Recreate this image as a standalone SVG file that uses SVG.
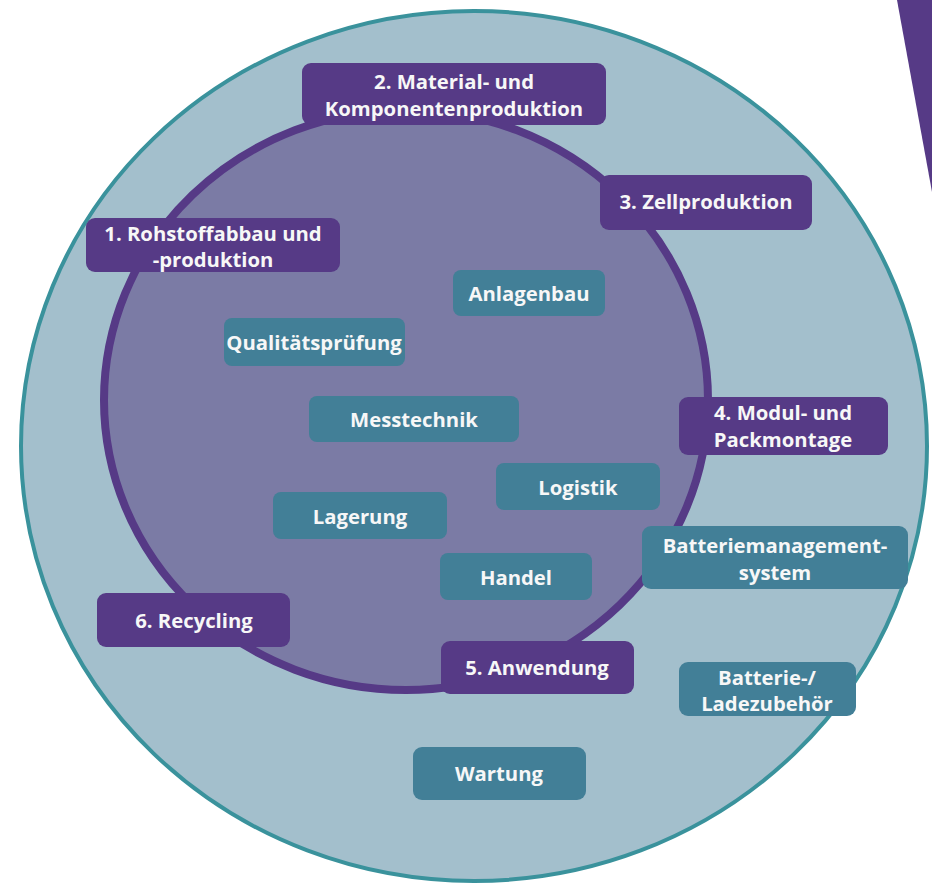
<svg xmlns="http://www.w3.org/2000/svg" width="932" height="892" viewBox="0 0 932 892">
<style>
.p{fill:#563a86}
.t{fill:#427f97}
text{font-family:"Open Sans",Lato,"Liberation Sans",sans-serif;font-weight:bold;font-size:20.3px;fill:#f7f7f7;text-anchor:middle}
</style>
<rect width="932" height="892" fill="#ffffff"/>
<polygon points="897,0 932,0 932,192" fill="#563a86"/>
<g id="rings">
<ellipse cx="474" cy="446" rx="453" ry="435" fill="#a3bfcc" stroke="#3a929c" stroke-width="4"/>
<ellipse cx="406" cy="400" rx="302" ry="290" fill="#7b7ba5" stroke="#563a86" stroke-width="8"/>
</g>
<g id="connectors"></g>
<g id="n2"><rect class="p" x="302" y="63" width="304" height="62" rx="9"/><text x="454" y="89">2. Material- und</text><text x="454" y="116">Komponentenproduktion</text></g>
<g id="n1"><rect class="p" x="86" y="218" width="254" height="54" rx="9"/><text x="213" y="241">1. Rohstoffabbau und</text><text x="213" y="267">-produktion</text></g>
<g id="n3"><rect class="p" x="600" y="175" width="212" height="55" rx="9"/><text x="706" y="209">3. Zellproduktion</text></g>
<g id="n4"><rect class="p" x="679" y="397" width="209" height="58" rx="9"/><text x="783" y="420">4. Modul- und</text><text x="783" y="447">Packmontage</text></g>
<g id="n5"><rect class="p" x="441" y="641" width="193" height="53" rx="9"/><text x="537" y="675">5. Anwendung</text></g>
<g id="n6"><rect class="p" x="97" y="593" width="193" height="54" rx="9"/><text x="194" y="628">6. Recycling</text></g>
<g id="anlagenbau"><rect class="t" x="453" y="270" width="152" height="46" rx="8"/><text x="529" y="301">Anlagenbau</text></g>
<g id="qualitaet"><rect class="t" x="224" y="318" width="181" height="48" rx="8"/><text x="314" y="350">Qualitätsprüfung</text></g>
<g id="messtechnik"><rect class="t" x="309" y="396" width="210" height="46" rx="8"/><text x="414" y="427">Messtechnik</text></g>
<g id="logistik"><rect class="t" x="496" y="463" width="164" height="47" rx="8"/><text x="578" y="495">Logistik</text></g>
<g id="lagerung"><rect class="t" x="273" y="492" width="174" height="47" rx="8"/><text x="360" y="524">Lagerung</text></g>
<g id="handel"><rect class="t" x="440" y="553" width="152" height="47" rx="8"/><text x="516" y="585">Handel</text></g>
<g id="bms"><rect class="t" x="642" y="526" width="266" height="63" rx="9"/><text x="775" y="553">Batteriemanagement-</text><text x="775" y="580">system</text></g>
<g id="zubehoer"><rect class="t" x="679" y="662" width="177" height="54" rx="9"/><text x="767" y="685">Batterie-/</text><text x="767" y="711">Ladezubehör</text></g>
<g id="wartung"><rect class="t" x="413" y="747" width="173" height="53" rx="9"/><text x="499" y="781">Wartung</text></g>
</svg>
